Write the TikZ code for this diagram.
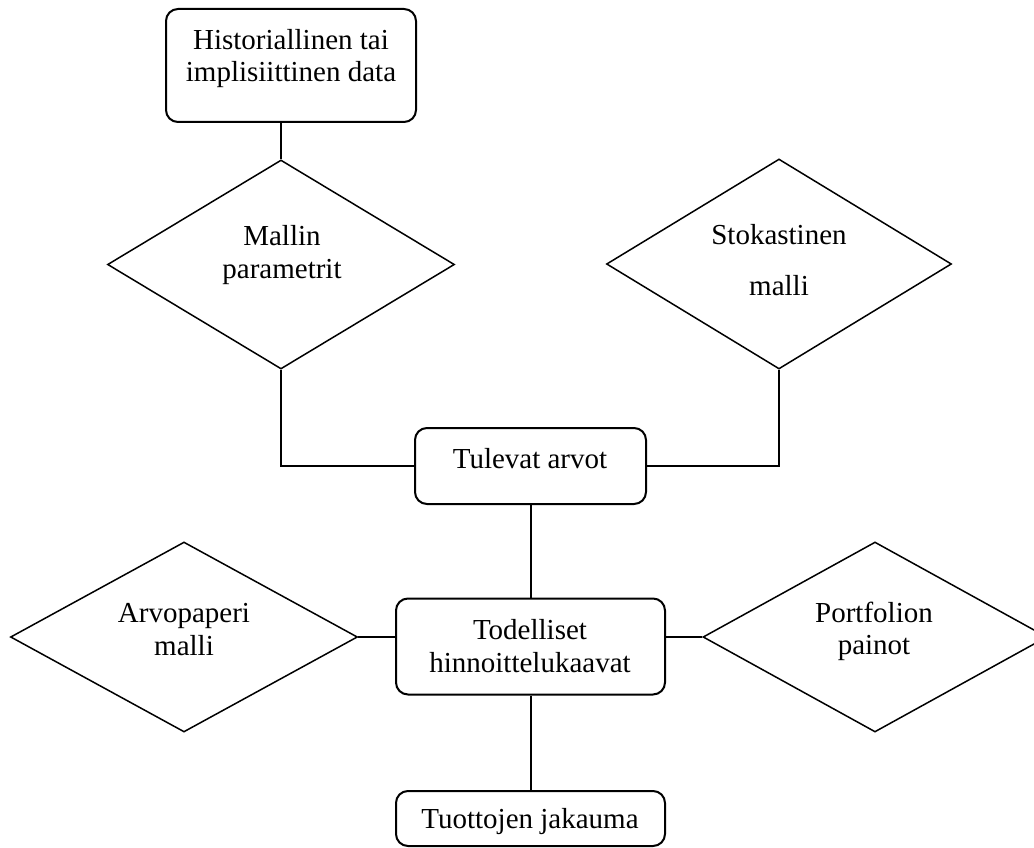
\documentclass[tikz,border=0pt]{standalone}
\usepackage{fontspec}
\setmainfont{Liberation Serif}
\usetikzlibrary{shapes.geometric}

\tikzset{
  roundbox/.style={draw, rounded corners=12pt, line width=2pt, inner sep=0pt},
  decision/.style={draw, diamond, line width=1.5pt, inner sep=0pt},
  link/.style={line width=2pt},
  label/.style={anchor=base, inner sep=0pt, font=\fontsize{29}{32}\selectfont}
}

\begin{document}
\begin{tikzpicture}[x=1pt, y=-1pt]
  \clip (0,0) rectangle (1034,848);
  \fill[white] (0,0) rectangle (1034,848);

  % boxes
  \node[roundbox, minimum width=250pt, minimum height=113pt] (hist) at (291,65.5) {};
  \node[roundbox, minimum width=231pt, minimum height=76pt]  (tul)  at (530.5,466) {};
  \node[roundbox, minimum width=269pt, minimum height=96pt]  (tod)  at (530.5,646.5) {};
  \node[roundbox, minimum width=269pt, minimum height=55pt]  (tuot) at (530.5,818.5) {};

  % diamonds
  \node[decision, minimum width=347pt, minimum height=209pt] (mal)  at (281,264.5) {};
  \node[decision, minimum width=345pt, minimum height=210pt] (stok) at (779,264) {};
  \node[decision, minimum width=347pt, minimum height=190pt] (arvo) at (184,637) {};
  \node[decision, minimum width=344pt, minimum height=190pt] (port) at (875,637) {};

  % texts
  \node[label] (t1a) at (291,50) {Historiallinen tai};
  \node[label] (t1b) at (291,82) {implisiittinen data};
  \node[label] (t2a) at (282,245) {Mallin};
  \node[label] (t2b) at (282,278) {parametrit};
  \node[label] (t3a) at (779,244) {Stokastinen};
  \node[label] (t3b) at (779,295) {malli};
  \node[label] (t4)  at (530,468) {Tulevat arvot};
  \node[label] (t5a) at (530,639) {Todelliset};
  \node[label] (t5b) at (530,672) {hinnoittelukaavat};
  \node[label] (t6a) at (184,622) {Arvopaperi};
  \node[label] (t6b) at (184,655) {malli};
  \node[label] (t7a) at (874,622) {Portfolion};
  \node[label] (t7b) at (874,654) {painot};
  \node[label] (t8)  at (530,828) {Tuottojen jakauma};

  % connectors
  \draw[link] (mal.north) -- (mal.north |- hist.south);
  \draw[link] (mal.south) |- (tul.west);
  \draw[link] (stok.south) |- (tul.east);
  \draw[link] (tul.south) -- (tod.north);
  \draw[link] (arvo.east) -- (arvo.east -| tod.west);
  \draw[link] (port.west) -- (port.west -| tod.east);
  \draw[link] (tod.south) -- (tuot.north);
\end{tikzpicture}
\end{document}
